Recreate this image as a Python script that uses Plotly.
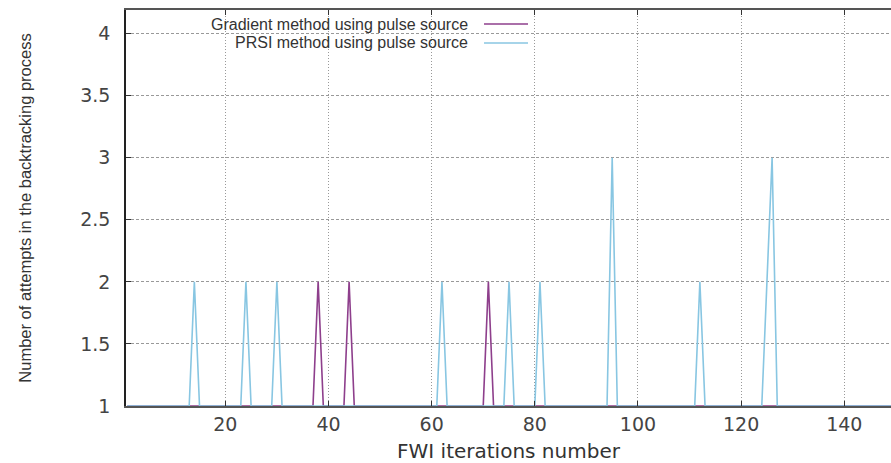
import plotly.graph_objects as go

# Data (iteration number, number of backtracking attempts)
grad_iter = [1, 37, 38, 39, 43, 44, 45, 70, 71, 72, 150]
grad_attempts = [1, 1, 2, 1, 1, 2, 1, 1, 2, 1, 1]

prsi_iter = [1, 13, 14, 15, 23, 24, 25, 29, 30, 31, 61, 62, 63, 74, 75, 76,
             80, 81, 82, 94, 95, 96, 111, 112, 113, 124, 125, 126, 127, 150]
prsi_attempts = [1, 1, 2, 1, 1, 2, 1, 1, 2, 1, 1, 2, 1, 1, 2, 1,
                 1, 2, 1, 1, 3, 1, 1, 2, 1, 1, 2, 3, 1, 1]

x_ticks = [20, 40, 60, 80, 100, 120, 140]
y_ticks = [1, 1.5, 2, 2.5, 3, 3.5, 4]
y_tick_labels = ["1", "1.5", "2", "2.5", "3", "3.5", "4"]

grad_name = "Gradient method using pulse source"
prsi_name = "PRSI method using pulse source"
grad_color = "#8e3f8c"
prsi_color = "#88c6e2"

fig = go.Figure()
fig.add_trace(go.Scatter(x=grad_iter, y=grad_attempts, mode="lines", name=grad_name,
                         line=dict(color=grad_color, width=1.6), showlegend=False))
fig.add_trace(go.Scatter(x=prsi_iter, y=prsi_attempts, mode="lines", name=prsi_name,
                         line=dict(color=prsi_color, width=1.6), showlegend=False))

tick_font = dict(family="DejaVu Sans", size=19, color="#444444")

fig.update_layout(
    width=891, height=463,
    margin=dict(l=126, r=0, t=10, b=57),
    paper_bgcolor="white", plot_bgcolor="white",
    showlegend=False,
    xaxis=dict(
        range=[0.75, 149.05], tickvals=x_ticks, ticks="inside", ticklen=5,
        tickcolor="#333333", showline=True, linecolor="#555555", linewidth=1.5,
        mirror="ticks", showgrid=True, gridcolor="#999999", griddash="1px,2px",
        gridwidth=1, zeroline=False, tickfont=tick_font,
        title=dict(text="FWI iterations number",
                   font=dict(family="DejaVu Sans", size=20, color="#333333"),
                   standoff=11),
    ),
    yaxis=dict(
        range=[1, 4.19], tickvals=y_ticks, ticktext=y_tick_labels, ticks="inside",
        ticklen=5, tickcolor="#333333", showline=True, linecolor="#222222",
        linewidth=1.5, showgrid=True, gridcolor="#999999", griddash="3px,2px",
        gridwidth=1, zeroline=False, tickfont=tick_font, ticklabelstandoff=10,
        title=dict(text="Number of attempts in the backtracking process",
                   font=dict(family="Liberation Sans Narrow, Liberation Sans",
                             size=16.5, color="#333333"),
                   standoff=44),
    ),
)

# gnuplot-style opaque key: right-justified text followed by line sample
fig.add_shape(type="rect", xref="paper", yref="paper", x0=0.0065, x1=0.535,
              y0=0.894, y1=0.992, fillcolor="white", line=dict(width=0),
              layer="between")
legend_rows = [(grad_name, grad_color, 0.9646), (prsi_name, prsi_color, 0.9167)]
for name, color, yy in legend_rows:
    fig.add_annotation(x=0.4497, y=yy, xref="paper", yref="paper", text=name,
                       showarrow=False, xanchor="right", yanchor="middle",
                       font=dict(family="Liberation Sans", size=16, color="#333333"))
    fig.add_shape(type="line", xref="paper", yref="paper", x0=0.468, x1=0.5255,
                  y0=yy, y1=yy, line=dict(color=color, width=1.6))

fig.write_html(
    "out.html",
    config={"displayModeBar": False},
    post_script="document.body.style.margin='0';document.body.style.overflow='hidden';",
)
